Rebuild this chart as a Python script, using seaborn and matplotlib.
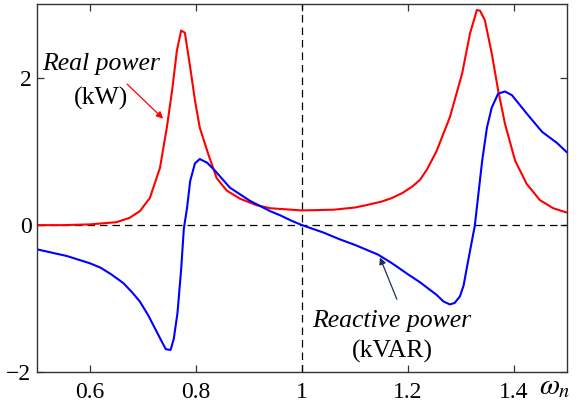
import matplotlib
matplotlib.use("Agg")
import matplotlib.pyplot as plt
import pandas as pd
import seaborn as sns

# Real power (kW) vs normalised frequency
real_x = [0.50, 0.55, 0.60, 0.65, 0.675, 0.694, 0.713, 0.732, 0.745, 0.755, 0.764, 0.772,
          0.779, 0.789, 0.798, 0.807, 0.823, 0.839, 0.858, 0.883, 0.915, 0.94,
          1.00, 1.06, 1.10, 1.12, 1.15, 1.17, 1.19, 1.209, 1.223, 1.236, 1.254, 1.279,
          1.302, 1.317, 1.330, 1.336, 1.345, 1.358, 1.370, 1.383, 1.402, 1.424, 1.449,
          1.474, 1.50]
real_y = [0.00, 0.00, 0.01, 0.04, 0.10, 0.19, 0.37, 0.78, 1.33, 1.84, 2.38, 2.65,
          2.62, 2.15, 1.70, 1.33, 0.97, 0.64, 0.47, 0.36, 0.27, 0.23,
          0.20, 0.21, 0.24, 0.27, 0.32, 0.37, 0.44, 0.53, 0.62, 0.76, 1.01, 1.47,
          2.06, 2.61, 2.93, 2.92, 2.79, 2.34, 1.84, 1.38, 0.88, 0.56, 0.34,
          0.23, 0.17]

# Reactive power (kVAR)
reac_x = [0.50, 0.556, 0.60, 0.62, 0.64, 0.663, 0.68, 0.694, 0.71, 0.72, 0.735, 0.743,
          0.752, 0.758, 0.765, 0.772, 0.777, 0.783, 0.789, 0.798, 0.807, 0.821, 0.836,
          0.864, 0.902, 0.94, 0.96, 0.98, 1.00, 1.04, 1.07, 1.10, 1.143, 1.17, 1.20,
          1.223, 1.254, 1.267, 1.279, 1.288, 1.298, 1.305, 1.311, 1.326, 1.340, 1.349,
          1.358, 1.370, 1.383, 1.396, 1.424, 1.453, 1.481, 1.50]
reac_y = [-0.33, -0.42, -0.52, -0.58, -0.67, -0.79, -0.92, -1.04, -1.23, -1.37, -1.58, -1.69,
          -1.70, -1.55, -1.20, -0.60, -0.05, 0.23, 0.60, 0.84, 0.90, 0.85, 0.74,
          0.51, 0.33, 0.19, 0.13, 0.06, 0.00, -0.10, -0.19, -0.27, -0.40, -0.52, -0.67,
          -0.78, -0.95, -1.04, -1.08, -1.06, -0.97, -0.82, -0.58, -0.01, 0.88, 1.33,
          1.60, 1.79, 1.82, 1.77, 1.52, 1.27, 1.12, 0.99]

x_ticks = [0.6, 0.8, 1.0, 1.2, 1.4]
x_tick_labels = ["0.6", "0.8", "1", "1.2", "1.4"]
y_ticks = [-2, 0, 2]
y_tick_labels = ["\u22122", "0", "2"]

sns.set_style("ticks")
plt.rcParams["font.family"] = ["Liberation Serif", "DejaVu Serif"]
plt.rcParams["mathtext.fontset"] = "stix"
plt.rcParams["text.color"] = "black"

real_df = pd.DataFrame({"w": real_x, "p": real_y})
reac_df = pd.DataFrame({"w": reac_x, "q": reac_y})

fig = plt.figure(figsize=(5.81, 4.09), dpi=100)
ax = fig.add_axes([0.0637, 0.0905, 0.9122, 0.8995])

ax.axhline(0, color="black", lw=0.9, ls=(0, (6, 4)), zorder=1)
ax.axvline(1, color="black", lw=0.9, ls=(0, (6, 4)), zorder=1)

sns.lineplot(data=real_df, x="w", y="p", ax=ax, color="#ff0000", lw=1.5, sort=False)
sns.lineplot(data=reac_df, x="w", y="q", ax=ax, color="#0000ff", lw=1.5, sort=False)

ax.set_xlim(0.5, 1.5)
ax.set_ylim(-2, 3.01)
ax.set_xticks(x_ticks)
ax.set_xticklabels(x_tick_labels)
ax.set_yticks(y_ticks)
ax.set_yticklabels(y_tick_labels)
ax.set_xlabel("")
ax.set_ylabel("")
ax.tick_params(direction="in", top=True, right=True, length=5, width=0.9,
               labelsize=17, colors="#333333", labelcolor="black")
ax.tick_params(axis="x", pad=7)
ax.tick_params(axis="y", pad=4)
for s in ax.spines.values():
    s.set_visible(True)
    s.set_color("#333333")
    s.set_linewidth(1.0)

# annotations
ax.text(0.62, 2.2, "Real power", style="italic", fontsize=18.5, ha="center", va="center")
ax.text(0.62, 1.72, "(kW)", fontsize=18.5, ha="center", va="center")
ax.annotate("", xy=(0.738, 1.45), xytext=(0.67, 1.92),
            arrowprops=dict(arrowstyle="-|>", color="#ff0000", lw=0.9,
                            mutation_scale=10, shrinkA=0, shrinkB=0))

ax.text(1.17, -1.31, "Reactive power", style="italic", fontsize=18.5, ha="center", va="center")
ax.text(1.17, -1.72, "(kVAR)", fontsize=18.5, ha="center", va="center")
ax.annotate("", xy=(1.147, -0.44), xytext=(1.179, -1.01),
            arrowprops=dict(arrowstyle="-|>", color="#1c2f5c", lw=0.9,
                            mutation_scale=10, shrinkA=0, shrinkB=0))

fig.text(0.955, 0.022, r"$\omega_n$", fontsize=21, ha="center", va="bottom")

fig.savefig("out.png", dpi=100)
